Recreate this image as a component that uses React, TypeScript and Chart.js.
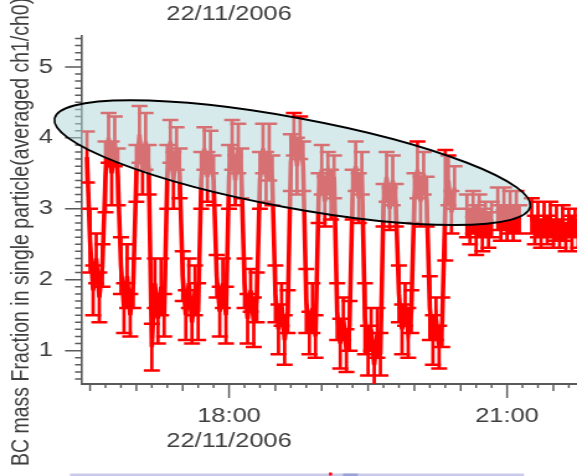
import React, { useEffect, useRef } from 'react';
import { Chart, registerables } from 'chart.js';

Chart.register(...registerables);

// ---- data: BC mass fraction, 22/11/2006 (2-minute samples) ----
const TIMES = [
  '16:28', '16:30', '16:32', '16:34', '16:36', '16:38', '16:40', '16:42', '16:44', '16:46',
  '16:48', '16:50', '16:52', '16:54', '16:56', '16:58', '17:00', '17:02', '17:04', '17:06',
  '17:08', '17:10', '17:12', '17:14', '17:16', '17:18', '17:20', '17:22', '17:24', '17:26',
  '17:28', '17:30', '17:32', '17:34', '17:36', '17:38', '17:40', '17:42', '17:44', '17:46',
  '17:48', '17:50', '17:52', '17:54', '17:56', '17:58', '18:00', '18:02', '18:04', '18:06',
  '18:08', '18:10', '18:12', '18:14', '18:16', '18:18', '18:20', '18:22', '18:24', '18:26',
  '18:28', '18:30', '18:32', '18:34', '18:36', '18:38', '18:40', '18:42', '18:44', '18:46',
  '18:48', '18:50', '18:52', '18:54', '18:56', '18:58', '19:00', '19:02', '19:04', '19:06',
  '19:08', '19:10', '19:12', '19:14', '19:16', '19:18', '19:20', '19:22', '19:24', '19:26',
  '19:28', '19:30', '19:32', '19:34', '19:36', '19:38', '19:40', '19:42', '19:44', '19:46',
  '19:48', '19:50', '19:52', '19:54', '19:56', '19:58', '20:00', '20:02', '20:04', '20:06',
  '20:08', '20:10', '20:12', '20:14', '20:16', '20:18', '20:20', '20:22', '20:24', '20:26',
  '20:28', '20:30', '20:32', '20:34', '20:36', '20:38', '20:40', '20:42', '20:44', '20:46',
  '20:48', '20:50', '20:52', '20:54', '20:56', '20:58', '21:00', '21:02', '21:04', '21:06',
  '21:08', '21:10', '21:12', '21:14', '21:16', '21:18', '21:20', '21:22', '21:24', '21:26',
  '21:28', '21:30', '21:32', '21:34', '21:36', '21:38', '21:40', '21:42', '21:44', '21:46',
];

// averaged ch1/ch0 ratio (null = no sample)
const BC_FRACTION: (number | null)[] = [
  3.73, 2.55, 1.85, 2.3, 1.75, 2.2, 3.45, 4.0, 3.5, 3.95,
  3.45, 2.2, 1.6, 2.05, 1.5, 1.95, 3.5, 4.05, 3.55, 3.95,
  3.55, 1.05, 1.95, 1.45, 1.9, 1.5, 3.45, 3.95, 3.4, 3.85,
  3.5, 2.05, 1.5, 1.95, 1.4, 1.85, 1.55, 3.4, 3.85, 3.45,
  3.8, 3.4, 2.05, 1.55, 1.95, 1.5, 3.45, 3.9, 3.4, 3.85,
  3.5, 1.95, 1.45, 1.85, 1.4, 1.75, 3.4, 3.85, 3.45, 3.8,
  3.4, 1.8, 1.3, 1.65, 1.15, 1.55, 3.65, 4.05, 3.6, 4.0,
  3.6, 1.7, 1.25, 1.6, 1.2, 3.15, 3.55, 3.1, 3.5, 3.2,
  3.45, 1.55, 1.1, 1.45, 1.0, 1.35, 3.2, 3.6, 3.15, 3.5,
  1.45, 1.0, 1.3, 0.8, 1.25, 0.95, 3.05, 3.45, 3.0, 3.4,
  3.05, 1.8, 1.3, 1.65, 1.25, 1.55, 3.15, 3.55, 3.1, 3.5,
  3.1, 1.6, 1.15, 1.45, 1.05, 1.4, 3.05, 3.4, 2.95, 3.3,
  null, null, null, 2.9, 2.75, 2.95, 2.7, 2.9, 2.7, 2.85,
  2.7, 2.85, null, 3.0, 2.8, 3.0, 2.8, 2.95, 2.8, 2.95,
  2.85, null, null, null, 2.9, 2.7, 2.85, 2.65, 2.85, 2.7,
  2.85, 2.65, 2.8, 2.65, 2.8, 2.6, 2.8, 2.65, 2.8, 2.65,
];

// +/- error of each sample
const BC_ERROR: (number | null)[] = [
  0.36, 0.45, 0.35, 0.35, 0.35, 0.3, 0.5, 0.35, 0.45, 0.35,
  0.4, 0.4, 0.35, 0.45, 0.3, 0.35, 0.4, 0.4, 0.35, 0.4,
  0.35, 0.33, 0.35, 0.35, 0.4, 0.3, 0.45, 0.3, 0.4, 0.3,
  0.35, 0.35, 0.35, 0.35, 0.3, 0.35, 0.4, 0.4, 0.3, 0.35,
  0.3, 0.35, 0.3, 0.35, 0.35, 0.4, 0.45, 0.35, 0.35, 0.35,
  0.35, 0.35, 0.35, 0.3, 0.35, 0.35, 0.4, 0.35, 0.35, 0.4,
  0.35, 0.4, 0.35, 0.3, 0.35, 0.3, 0.4, 0.3, 0.4, 0.3,
  0.35, 0.45, 0.3, 0.35, 0.3, 0.35, 0.35, 0.35, 0.3, 0.35,
  0.3, 0.4, 0.35, 0.3, 0.3, 0.35, 0.35, 0.35, 0.35, 0.3,
  0.5, 0.35, 0.3, 0.3, 0.35, 0.3, 0.3, 0.35, 0.3, 0.35,
  0.3, 0.4, 0.35, 0.3, 0.35, 0.3, 0.35, 0.4, 0.35, 0.3,
  0.35, 0.45, 0.35, 0.3, 0.3, 0.35, 0.78, 0.35, 0.3, 0.3,
  null, null, null, 0.3, 0.25, 0.3, 0.35, 0.3, 0.3, 0.25,
  0.25, 0.25, null, 0.3, 0.25, 0.3, 0.25, 0.3, 0.25, 0.3,
  0.2, null, null, null, 0.25, 0.2, 0.25, 0.2, 0.25, 0.2,
  0.25, 0.2, 0.25, 0.2, 0.25, 0.2, 0.2, 0.25, 0.2, 0.2,
];

const DATE_LABEL = '22/11/2006';
const Y_TITLE = 'BC mass Fraction in single particle(averaged ch1/ch0)';
const X_TICK_LABELS = ['18:00', '21:00'];
const Y_TICK_VALUES = [1, 2, 3, 4, 5];

// highlighted region: ends of the ellipse's long axis (time, ratio)
const HIGHLIGHT_FROM: [string, number] = ['16:07', 4.27];
const HIGHLIGHT_TO: [string, number] = ['21:15', 3.03];

// ---- layout ----
const VIEW_W = 577;
const VIEW_H = 476;
const CANVAS_W = 465; // bitmap is stretched horizontally to VIEW_W
const SX = VIEW_W / CANVAS_W;
const AXIS_LEFT = 82 / SX;
const PLOT_TOP = 28;
const X_AXIS_H = 92;
const X_RANGE = [984.8, 1305.3]; // minutes after midnight
const Y_RANGE = [0.53, 5.44];
const HIGHLIGHT_HALF_WIDTH = 45;

const FONT = '"Liberation Sans", Arial, sans-serif';
const FONT_SIZE = 20.5;
const TITLE_FONT_SIZE = 19.5;
const TEXT_COLOR = '#3e3e3e';
const AXIS_COLOR = '#5a5a5a';
const TRACE_COLOR = '#ff0000';

const toMin = (s: string) => {
  const [h, m] = s.split(':').map(Number);
  return h * 60 + m;
};
const fmt = (m: number) => {
  const h = Math.floor(m / 60);
  const mm = Math.round(m - h * 60);
  return `${String(h).padStart(2, '0')}:${String(mm).padStart(2, '0')}`;
};

const decorations = {
  id: 'decorations',
  beforeDatasetsDraw(chart: any) {
    const { ctx, chartArea: a, scales } = chart;
    const x = scales.x;
    const y = scales.y;
    ctx.save();
    // y-axis tick marks (every 0.1, long at integers)
    ctx.strokeStyle = AXIS_COLOR;
    ctx.lineWidth = 1.5;
    ctx.beginPath();
    for (let k = 6; k <= 54; k++) {
      const py = y.getPixelForValue(k / 10);
      const len = k % 10 === 0 ? 17 / SX : 7 / SX;
      ctx.moveTo(a.left - len, py);
      ctx.lineTo(a.left, py);
    }
    ctx.stroke();
    // x-axis tick marks (every 10 min, longer each half hour, longest at labels)
    ctx.lineWidth = 1.8 / SX;
    ctx.beginPath();
    for (let m = 990; m <= X_RANGE[1]; m += 10) {
      const px = x.getPixelForValue(m);
      const len = m % 180 === 0 ? 14 : m % 30 === 0 ? 7 : 4;
      ctx.moveTo(px, a.bottom);
      ctx.lineTo(px, a.bottom + len);
    }
    ctx.stroke();

    // error bars with caps
    ctx.beginPath();
    ctx.rect(a.left, a.top, a.right - a.left, a.bottom - a.top);
    ctx.clip();
    ctx.strokeStyle = TRACE_COLOR;
    const cap = 8 / SX;
    const stems = new Path2D();
    const caps = new Path2D();
    TIMES.forEach((t, i) => {
      const v = BC_FRACTION[i];
      const e = BC_ERROR[i];
      if (v == null || e == null) return;
      const px = x.getPixelForValue(toMin(t));
      const top = y.getPixelForValue(v + e);
      const bot = y.getPixelForValue(v - e);
      stems.moveTo(px, top);
      stems.lineTo(px, bot);
      caps.moveTo(px - cap, top);
      caps.lineTo(px + cap, top);
      caps.moveTo(px - cap, bot);
      caps.lineTo(px + cap, bot);
    });
    ctx.lineWidth = 3.4 / SX;
    ctx.stroke(stems);
    ctx.lineWidth = 2.5;
    ctx.stroke(caps);
    ctx.restore();
  },
  afterDatasetsDraw(chart: any) {
    const { ctx, scales } = chart;
    const x = scales.x;
    const y = scales.y;
    const x0 = x.getPixelForValue(toMin(HIGHLIGHT_FROM[0])) * SX;
    const y0 = y.getPixelForValue(HIGHLIGHT_FROM[1]);
    const x1 = x.getPixelForValue(toMin(HIGHLIGHT_TO[0])) * SX;
    const y1 = y.getPixelForValue(HIGHLIGHT_TO[1]);
    const cx = (x0 + x1) / 2;
    const cy = (y0 + y1) / 2;
    const half = Math.hypot(x1 - x0, y1 - y0) / 2;
    const ang = Math.atan2(y1 - y0, x1 - x0);
    ctx.save();
    ctx.scale(1 / SX, 1);
    ctx.beginPath();
    ctx.ellipse(cx, cy, half, HIGHLIGHT_HALF_WIDTH, ang, 0, Math.PI * 2);
    ctx.fillStyle = 'rgba(177, 215, 218, 0.52)';
    ctx.fill();
    ctx.lineWidth = 2;
    ctx.strokeStyle = '#000';
    ctx.stroke();
    ctx.restore();
  },
  afterDraw(chart: any) {
    const { ctx, scales } = chart;
    const x = scales.x;
    ctx.save();
    ctx.fillStyle = TEXT_COLOR;
    // date heading above the plot
    ctx.font = `${FONT_SIZE}px ${FONT}`;
    ctx.textAlign = 'center';
    ctx.textBaseline = 'middle';
    ctx.fillText(DATE_LABEL, x.getPixelForValue(toMin(X_TICK_LABELS[0])), 14);
    // y-axis title
    ctx.font = `${TITLE_FONT_SIZE}px ${FONT}`;
    ctx.translate(22 / SX, 466);
    ctx.rotate(-Math.PI / 2);
    ctx.textAlign = 'left';
    ctx.fillText(Y_TITLE, 0, 0);
    ctx.restore();

    // top edge of the panel below
    ctx.save();
    ctx.fillStyle = 'rgba(196, 196, 232, 0.9)';
    ctx.fillRect(70 / SX, 473.5, (524 - 70) / SX, 2.5);
    ctx.fillStyle = 'rgba(150, 160, 215, 0.9)';
    ctx.fillRect(343 / SX, 473.5, 15 / SX, 2.5);
    ctx.fillStyle = TRACE_COLOR;
    ctx.fillRect(329 / SX, 472.5, 3 / SX, 3);
    ctx.restore();
  },
};

export default function App() {
  const ref = useRef<HTMLCanvasElement>(null);

  useEffect(() => {
    if (!ref.current) return;
    const points = TIMES.map((t, i) => ({ x: toMin(t), y: BC_FRACTION[i] }));
    const tickFont = { family: FONT, size: FONT_SIZE };
    const chart = new Chart(ref.current, {
      type: 'line',
      data: {
        datasets: [
          {
            data: points as any,
            borderColor: TRACE_COLOR,
            borderWidth: 3.6,
            pointRadius: 0,
            tension: 0,
            spanGaps: false,
          },
        ],
      },
      options: {
        responsive: false,
        animation: false,
        events: [],
        layout: { padding: { top: PLOT_TOP, left: 0, right: 0, bottom: 0 } },
        plugins: {
          legend: { display: false },
          tooltip: { enabled: false },
          title: { display: false },
        },
        scales: {
          x: {
            type: 'linear',
            min: X_RANGE[0],
            max: X_RANGE[1],
            grid: { display: false, drawTicks: false },
            border: { display: true, color: AXIS_COLOR, width: 2 },
            afterBuildTicks: (s: any) => {
              s.ticks = X_TICK_LABELS.map((t) => ({ value: toMin(t) }));
            },
            afterFit: (s: any) => {
              s.height = X_AXIS_H;
            },
            ticks: {
              autoSkip: false,
              maxRotation: 0,
              minRotation: 0,
              padding: 20,
              color: TEXT_COLOR,
              font: tickFont,
              callback: (v: any, i: number) =>
                i === 0 ? [fmt(Number(v)), DATE_LABEL] : fmt(Number(v)),
            },
          },
          y: {
            type: 'linear',
            min: Y_RANGE[0],
            max: Y_RANGE[1],
            grid: { display: false, drawTicks: false },
            border: { display: true, color: AXIS_COLOR, width: 2 / SX },
            afterBuildTicks: (s: any) => {
              s.ticks = Y_TICK_VALUES.map((v) => ({ value: v }));
            },
            afterFit: (s: any) => {
              s.width = AXIS_LEFT;
            },
            ticks: {
              padding: AXIS_LEFT - 53 / SX,
              color: TEXT_COLOR,
              font: tickFont,
              callback: (v: any) => String(v),
            },
          },
        },
      },
      plugins: [decorations],
    });
    return () => chart.destroy();
  }, []);

  return (
    <div
      style={{
        position: 'absolute',
        left: 0,
        top: 0,
        width: VIEW_W,
        height: VIEW_H,
        overflow: 'hidden',
        background: '#fff',
      }}
    >
      <canvas
        ref={ref}
        width={CANVAS_W}
        height={VIEW_H}
        style={{ display: 'block', width: `${VIEW_W}px`, height: `${VIEW_H}px` }}
      />
    </div>
  );
}
